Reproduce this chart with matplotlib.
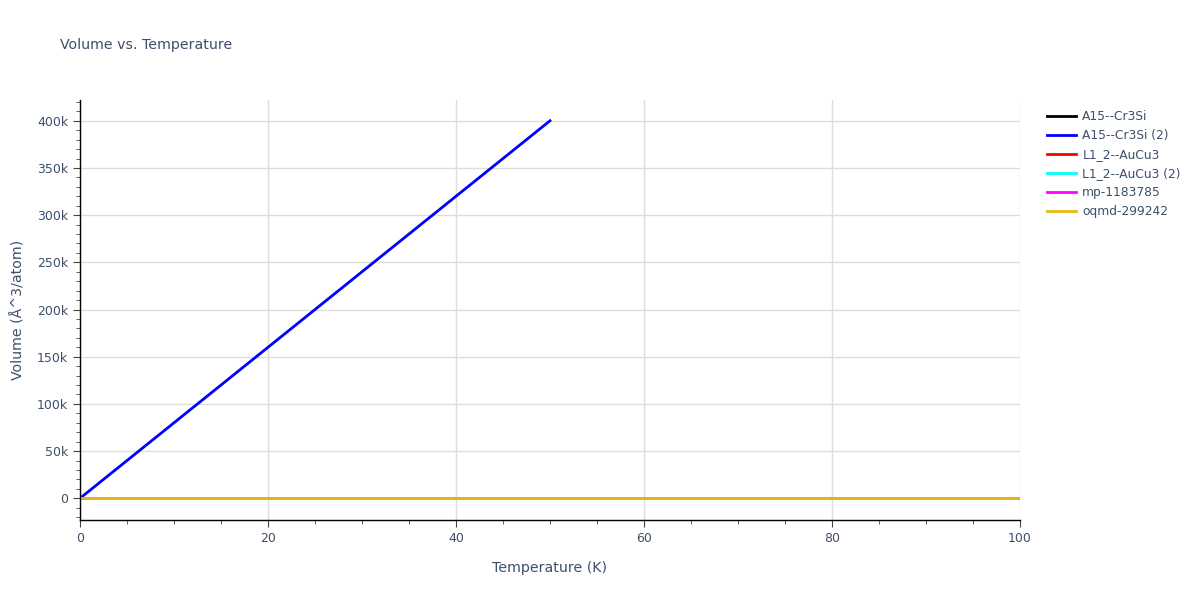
import matplotlib.pyplot as plt
from matplotlib.ticker import MultipleLocator, FuncFormatter
from matplotlib.lines import Line2D

# Data
names = ['A15--Cr3Si', 'A15--Cr3Si (2)', 'L1_2--AuCu3', 'L1_2--AuCu3 (2)', 'mp-1183785', 'oqmd-299242']
colors = ['#000000', '#0000ff', '#ff0000', '#00ffff', '#ff00ff', '#ebb917']

temps_full = [0, 10, 20, 30, 40, 50, 60, 70, 80, 90, 100]
temps_half = [0, 10, 20, 30, 40, 50]

cr3si = [11.6, 11.6, 11.6, 11.6, 11.7, 11.7, 11.7, 11.7, 11.8, 11.8, 11.8]
cr3si_2 = [0, 80000, 160000, 240000, 320000, 400000]
aucu3 = [13.9, 13.9, 13.9, 14.0, 14.0, 14.0, 14.1, 14.1, 14.1, 14.2, 14.2]
aucu3_2 = [13.9, 13.9, 13.9, 14.0, 14.0, 14.0, 14.1, 14.1, 14.1, 14.2, 14.2]
mp_1183785 = [14.4, 14.4, 14.4, 14.5, 14.5, 14.5, 14.6, 14.6, 14.6, 14.7, 14.7]
oqmd_299242 = [14.9, 14.9, 14.9, 15.0, 15.0, 15.0, 15.1, 15.1, 15.1, 15.2, 15.2]

series = [
    (temps_full, cr3si),
    (temps_half, cr3si_2),
    (temps_full, aucu3),
    (temps_full, aucu3_2),
    (temps_full, mp_1183785),
    (temps_full, oqmd_299242),
]

txt = '#3d4f6b'
plt.rcParams['font.family'] = ['DejaVu Sans']

fig = plt.figure(figsize=(12, 6), dpi=100, facecolor='white')
ax = fig.add_axes([80/1200, 80/600, 940/1200, 420/600])

for (x, y), c, n in zip(series, colors, names):
    ax.plot(x, y, color=c, lw=2, label=n)

ax.set_xlim(0, 100)
ax.set_ylim(-23000, 422000)
ax.xaxis.set_major_locator(MultipleLocator(20))
ax.xaxis.set_minor_locator(MultipleLocator(5))
ax.yaxis.set_major_locator(MultipleLocator(50000))
ax.yaxis.set_minor_locator(MultipleLocator(10000))
ax.yaxis.set_major_formatter(FuncFormatter(lambda v, p: '0' if v == 0 else f'{int(v/1000)}k'))

ax.grid(True, which='major', color='#dddddd', lw=1)
ax.set_axisbelow(True)
for s in ['top', 'right']:
    ax.spines[s].set_visible(False)
for s in ['left', 'bottom']:
    ax.spines[s].set_color('black')
    ax.spines[s].set_linewidth(1)
ax.tick_params(which='major', length=5, color='#444444', labelcolor=txt, labelsize=9, direction='out')
ax.tick_params(which='minor', length=3, color='#444444', direction='out')

ax.set_xlabel('Temperature (K)', color=txt, fontsize=10.2, labelpad=12)
ax.set_ylabel('Volume (Å^3/atom)', color=txt, fontsize=10.2, labelpad=8)
fig.text(60/1200, 1 - 45/600, 'Volume vs. Temperature', color=txt, fontsize=10.2, va='center')

handles = [Line2D([0], [0], color=c, lw=2) for c in colors]
leg = fig.legend(handles, names, loc='upper left', bbox_to_anchor=(1042/1200, 1 - 105/600),
                 frameon=False, fontsize=8.8, handlelength=2.4, labelspacing=0.5,
                 handletextpad=0.5, borderaxespad=0)
for t in leg.get_texts():
    t.set_color(txt)

fig.savefig('out.png', dpi=100)
